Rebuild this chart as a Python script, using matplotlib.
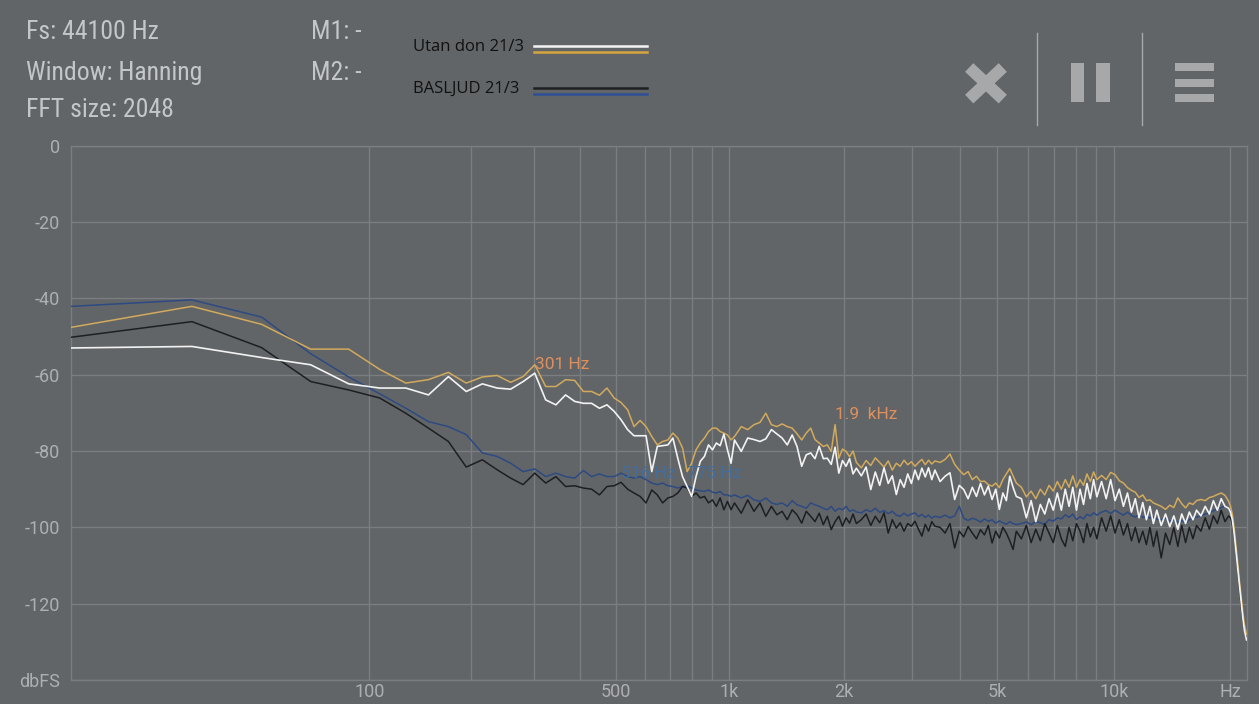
import numpy as np
import matplotlib
matplotlib.use("Agg")
import matplotlib.pyplot as plt
from matplotlib import font_manager
from matplotlib.patches import Rectangle

# --- data: FFT bins (44100 Hz, 2048 points) and levels in dBFS ---
bins = [0, 1, 2, 3, 4, 5, 6, 7, 8, 9, 10, 11, 12, 13, 14, 15, 16, 17, 18, 19,
        20, 21, 22, 23, 24, 25, 26, 27, 28, 29, 30, 31, 32, 33, 34, 35, 36, 37, 38, 39,
        40, 41, 42, 43, 44, 45, 46, 47, 48,
        50, 52, 54, 56, 58, 60, 62, 64, 66, 68, 70, 72, 74, 76, 78, 80, 82, 84, 86, 88,
        90, 92, 94, 96, 98, 100,
        103, 106, 109, 112, 115, 118, 121, 124, 127, 130, 133, 136, 139, 142, 145, 148,
        151, 154, 157, 160,
        165, 170, 175, 180, 185, 190, 195, 200, 205, 210, 215, 220, 225, 230, 235, 240,
        245, 250, 255, 260,
        268, 276, 284, 292, 300, 308, 316, 324, 332, 340, 348, 356, 364, 372, 380, 388,
        396, 404, 412, 420,
        432, 444, 456, 468, 480, 492, 504, 516, 528, 540, 552, 564, 576, 588, 600,
        616, 632, 648, 664, 680, 696, 712, 728, 744, 760,
        780, 800, 820, 840, 860, 880, 900, 920,
        930, 940, 950, 960, 970, 980, 990, 1000, 1010, 1023]

utan_peak = [-47.6, -42.1, -46.8, -53.3, -53.3, -58.6, -62.2, -61.3, -59.4, -62.2,
             -60.6, -60.2, -62.0, -60.5, -57.4, -63.1, -63.1, -61.3, -61.5, -64.4,
             -64.4, -65.4, -63.5, -66.1, -67.3, -69.2, -73.6, -72.0, -73.6, -76.2,
             -78.4, -77.5, -77.1, -75.3, -76.6, -79.2, -85.4, -83.2, -79.7, -77.9,
             -76.6, -74.9, -74.0, -74.0, -74.9, -75.3, -75.8, -77.1, -76.2,
             -73.6, -74.4, -73.1, -72.5, -70.1, -73.1, -73.6, -72.9, -73.6, -74.0,
             -75.5, -77.1, -75.3, -74.0, -77.0, -77.9, -78.8, -78.4, -80.1, -73.1,
             -81.9, -79.5, -80.1, -81.5, -80.0, -83.0,
             -84.4, -82.5, -83.8, -81.8, -83.0, -84.2, -82.6, -85.0, -83.2, -84.0,
             -82.4, -83.6, -82.8, -84.0, -83.0, -82.2, -83.6, -82.4, -83.4, -82.6,
             -83.0, -82.2, -80.8, -83.5, -85.0, -86.2, -85.4, -87.5, -86.6, -88.0,
             -87.9, -88.8, -89.2, -88.4, -89.6, -87.5, -86.0, -84.6, -86.5, -88.4,
             -89.5, -92.0, -90.5, -92.5, -90.0, -91.5, -89.0, -90.5, -88.0, -90.0,
             -87.5, -89.5, -86.5, -89.5, -87.5, -89.0, -86.0, -88.0, -85.5, -87.5,
             -86.4, -87.5, -85.6, -86.2, -87.8, -88.4, -89.6, -90.3, -90.8, -92.2,
             -91.5, -93.0, -92.8, -93.6, -94.0,
             -94.5, -95.3, -94.2, -94.8, -92.3, -93.8, -94.9, -93.6, -94.0, -93.0,
             -92.7, -93.0, -92.2, -91.9, -91.4, -91.0, -91.6, -93.2,
             -94.5, -96.5, -100.0, -104.5, -109.0, -113.7, -118.0, -122.0, -125.5, -128.0]

utan_live = [-53.0, -52.6, -55.5, -57.4, -62.4, -63.5, -63.5, -65.3, -60.5, -64.4,
             -62.4, -63.5, -63.8, -61.8, -59.6, -66.6, -67.9, -65.3, -67.0, -67.5,
             -67.5, -68.8, -67.9, -69.6, -71.8, -74.4, -76.0, -76.0, -76.0, -85.4,
             -78.8, -78.6, -78.4, -76.6, -81.9, -86.7, -89.3, -91.9, -86.7, -82.7,
             -81.4, -78.4, -79.7, -77.9, -78.6, -75.6, -79.7, -83.2, -77.1,
             -80.1, -76.6, -77.0, -77.5, -76.8, -74.4, -75.5, -76.6, -78.4, -75.8,
             -78.8, -84.0, -81.0, -80.5, -82.0, -78.8, -82.0, -81.9, -83.5, -79.0,
             -85.8, -82.5, -84.0, -82.0, -86.0, -84.5,
             -86.5, -84.2, -90.1, -85.5, -89.0, -84.4, -88.5, -86.5, -91.4, -87.5,
             -89.5, -86.0, -88.5, -85.0, -87.5, -84.5, -86.8, -84.4, -87.5, -85.0,
             -88.0, -86.6, -85.7, -92.7, -89.0, -90.1, -92.5, -89.5, -91.9, -88.5,
             -91.5, -89.2, -92.7, -90.0, -95.3, -91.0, -93.0, -86.6, -89.5, -91.9,
             -92.5, -97.5, -93.0, -98.5, -94.0, -96.5, -92.5, -95.5, -91.0, -95.5,
             -90.0, -94.5, -89.5, -95.5, -90.0, -94.0, -88.5, -92.5, -87.5, -92.0,
             -88.0, -92.5, -87.5, -93.0, -90.0, -94.5, -91.0, -96.0, -92.5, -97.5,
             -93.5, -98.0, -94.5, -99.0, -95.5,
             -99.5, -96.5, -99.8, -97.0, -100.5, -96.5, -99.0, -96.0, -98.0, -95.5,
             -97.0, -94.5, -96.5, -93.0, -95.5, -92.5, -94.5, -95.0,
             -96.0, -98.0, -101.5, -106.0, -110.5, -115.0, -119.5, -123.5, -127.0, -129.5]

bas_peak = [-42.1, -40.4, -44.9, -54.5, -60.6, -65.0, -68.8, -72.3, -73.6, -75.7,
            -80.5, -81.4, -83.2, -85.4, -84.7, -86.7, -85.8, -86.7, -87.1, -85.1,
            -86.7, -86.0, -86.7, -86.7, -85.8, -86.7, -87.1, -86.7, -87.5, -88.4,
            -88.8, -88.4, -89.1, -89.3, -89.7, -89.3, -89.1, -89.7, -90.2, -90.4,
            -90.6, -90.2, -90.8, -91.0, -90.6, -91.5, -91.5, -91.9, -91.5,
            -92.3, -91.6, -92.8, -93.2, -92.3, -93.6, -94.0, -93.6, -94.5, -93.0,
            -94.1, -94.5, -95.0, -93.6, -94.1, -94.5, -95.0, -95.4, -94.5, -95.8,
            -95.0, -95.4, -94.5, -95.8, -95.4, -96.0,
            -96.2, -95.4, -95.9, -95.0, -96.1, -95.6, -96.4, -95.8, -96.8, -97.1,
            -96.3, -97.0, -96.5, -96.2, -97.2, -96.6, -97.4, -96.8, -97.6, -97.1,
            -97.4, -96.8, -97.5, -97.0, -94.5, -97.6, -98.2, -97.6, -98.0, -98.6,
            -97.8, -98.4, -98.0, -98.9, -98.3, -98.8, -99.2, -98.5, -99.0, -99.3,
            -99.0, -98.6, -99.3, -98.5, -98.8, -99.2, -98.0, -98.4, -97.5, -97.8,
            -96.7, -97.4, -96.5, -98.0, -97.2, -97.8, -96.6, -97.0, -96.2, -96.8,
            -96.0, -95.6, -96.4, -95.5, -96.2, -96.8, -96.0, -96.9, -97.3, -96.6,
            -97.4, -97.0, -97.6, -97.2, -97.9,
            -98.0, -97.6, -98.4, -98.0, -98.8, -98.2, -98.8, -98.0, -97.6, -97.3,
            -97.0, -96.5, -96.2, -95.6, -95.3, -94.8, -94.5, -95.0,
            -95.5, -97.5, -101.0, -105.5, -110.0, -114.5, -119.0, -123.0, -126.5, -128.5]

bas_live = [-50.2, -46.1, -52.9, -61.8, -64.0, -66.1, -70.1, -74.0, -77.5, -84.2,
            -82.3, -84.9, -87.1, -88.8, -85.8, -88.4, -86.7, -89.3, -89.1, -89.7,
            -90.0, -91.5, -89.3, -89.1, -88.2, -90.0, -91.0, -91.9, -93.6, -90.2,
            -91.5, -93.6, -92.3, -91.9, -91.0, -89.3, -89.7, -91.9, -91.0, -92.3,
            -91.9, -93.6, -92.8, -94.5, -92.3, -95.4, -93.2, -95.4, -93.6,
            -96.3, -92.8, -95.8, -93.6, -97.1, -94.5, -96.7, -95.8, -98.0, -95.4,
            -96.7, -98.9, -95.8, -97.1, -98.5, -96.3, -99.3, -97.1, -100.6, -98.5,
            -97.1, -99.7, -97.5, -98.9, -96.5, -99.0,
            -98.0, -96.5, -99.5, -97.1, -98.8, -96.2, -101.5, -98.0, -100.2, -98.8,
            -101.0, -99.0, -99.7, -98.4, -100.5, -102.3, -99.2, -101.0, -98.5, -99.7,
            -100.0, -101.5, -99.0, -105.4, -101.0, -102.5, -99.8, -101.5, -103.0, -100.6,
            -102.0, -99.5, -104.1, -101.0, -102.8, -100.0, -101.5, -103.5, -105.8, -101.0,
            -103.0, -99.5, -104.0, -100.5, -103.5, -99.0, -101.5, -104.0, -99.5, -103.0,
            -105.0, -100.0, -103.5, -99.0, -101.0, -104.0, -99.0, -102.5, -100.0, -103.0,
            -97.5, -101.0, -97.0, -101.5, -98.0, -102.0, -99.0, -103.5, -100.0, -104.0,
            -101.0, -104.5, -100.0, -105.0, -101.0,
            -108.0, -101.5, -104.5, -100.0, -105.0, -99.5, -104.0, -100.0, -103.0, -99.5,
            -101.0, -97.5, -100.5, -97.0, -99.0, -95.5, -98.5, -97.0,
            -97.5, -99.0, -102.0, -106.0, -110.5, -115.5, -120.0, -124.0, -127.0, -129.0]

x_major = [100, 500, 1000, 2000, 5000, 10000, 20000]
x_major_labels = ['100', '500', '1k', '2k', '5k', '10k', 'Hz']
x_minor = [200, 300, 400, 600, 700, 800, 900, 3000, 4000, 6000, 7000, 8000, 9000]
y_ticks = [0, -20, -40, -60, -80, -100, -120, -140]
y_labels = ['0', '-20', '-40', '-60', '-80', '-100', '-120', 'dbFS']

# markers: (bin, series, label, colour)
markers = [(14, 'utan_peak', '301 Hz', '#de8f5c'),
           (88, 'utan_peak', '1.9  kHz', '#de8f5c'),
           (24, 'bas_peak', '516 Hz', '#436d9b'),
           (36, 'bas_peak', '775 Hz', '#436d9b')]

# --- style ---
W, H = 1259, 704
BG = '#626568'
GRID = '#7b7e81'
TICK_COL = '#adafb1'
HEAD_COL = '#c4c6c8'
ICON_COL = '#a6a8aa'

installed = {f.name for f in font_manager.fontManager.ttflist}
head_font = 'Roboto Condensed' if 'Roboto Condensed' in installed else 'Roboto'
plt.rcParams['font.family'] = ['Roboto', 'DejaVu Sans']

freqs = np.array(bins) * 44100 / 2048
series = {'utan_peak': np.array(utan_peak), 'utan_live': np.array(utan_live),
          'bas_peak': np.array(bas_peak), 'bas_live': np.array(bas_live)}

OFFSET = 20.5  # the app's log axis is log(f + ~1 bin)


def fwd(f):
    return np.log10(np.maximum(np.asarray(f, dtype=float) + OFFSET, 1e-3))


def inv(v):
    return 10 ** np.asarray(v, dtype=float) - OFFSET


fig = plt.figure(figsize=(W / 100, H / 100), dpi=100, facecolor=BG)
ax = fig.add_axes([71 / W, 1 - 680 / H, (1246.7 - 71) / W, (680 - 145.7) / H], facecolor=BG)
ax.set_xscale('function', functions=(fwd, inv))
ax.set_xlim(0, 22050)
ax.set_ylim(-140, 0)

ax.set_xticks(x_major, x_major_labels)
ax.set_xticks(x_minor, minor=True)
ax.set_yticks(y_ticks, y_labels)
ax.tick_params(which='both', length=0, colors=TICK_COL, labelsize=13)
ax.tick_params(axis='x', pad=2.5)
ax.tick_params(axis='y', pad=8)
ax.grid(True, which='both', color=GRID, lw=1)
for s in ax.spines.values():
    s.set_color(GRID)
    s.set_linewidth(1)

ax.plot(freqs, series['bas_peak'], color='#2d4a82', lw=1.1, zorder=3)
ax.plot(freqs, series['bas_live'], color='#1d1f22', lw=1.1, zorder=4)
ax.plot(freqs, series['utan_peak'], color='#d2aa5c', lw=1.1, zorder=5)
ax.plot(freqs, series['utan_live'], color='#f2f2f2', lw=1.2, zorder=6)

for b, key, label, col in markers:
    i = bins.index(b)
    dy = 10 if label.startswith('1.9') else 0
    dy = 12 if label.startswith('775') else dy
    ax.annotate(label, (freqs[i], series[key][i]), xytext=(0, dy), textcoords='offset pixels',
                ha='left', va='center', color=col, fontsize=12.5, zorder=7)

# --- screen overlay in pixel coordinates ---
ui = fig.add_axes([0, 0, 1, 1])
ui.set_xlim(0, W)
ui.set_ylim(H, 0)
ui.axis('off')
ui.patch.set_alpha(0)

for txt, y in [('Fs: 44100 Hz', 39), ('Window: Hanning', 80), ('FFT size: 2048', 117)]:
    ui.text(26, y, txt, color=HEAD_COL, fontsize=18.5, va='baseline', ha='left',
            family=[head_font, 'DejaVu Sans'])
for txt, y in [('M1: -', 39), ('M2: -', 80)]:
    ui.text(311, y, txt, color=HEAD_COL, fontsize=18.5, va='baseline', ha='left',
            family=[head_font, 'DejaVu Sans'])

ui.text(413, 47, 'Utan don 21/3', color='#111111', fontsize=12, va='center', ha='left',
        family=['Open Sans', 'DejaVu Sans'])
ui.text(413, 89, 'BASLJUD 21/3', color='#111111', fontsize=12, va='center', ha='left',
        family=['Open Sans', 'DejaVu Sans'])
ui.plot([534, 647], [46, 46], color='#f4f4f4', lw=1.8)
ui.plot([534, 647], [51.7, 51.7], color='#d7a63e', lw=1.8)
ui.plot([534, 647], [88.3, 88.3], color='#1d1f22', lw=1.8)
ui.plot([534, 647], [94, 94], color='#2c4f95', lw=1.8)

# close / pause / menu icons
ui.plot([969.2, 1002.8], [67.5, 99.1], color=ICON_COL, lw=8.6, solid_capstyle='butt')
ui.plot([969.2, 1002.8], [99.1, 67.5], color=ICON_COL, lw=8.6, solid_capstyle='butt')
ui.plot([1037.3, 1037.3], [33, 125], color=ICON_COL, lw=1)
ui.plot([1142, 1142], [33, 125], color=ICON_COL, lw=1)
ui.add_patch(Rectangle((1070.7, 63.3), 13.6, 39, color=ICON_COL, lw=0))
ui.add_patch(Rectangle((1096, 63.3), 14, 39, color=ICON_COL, lw=0))
for y in (63.3, 79, 94.3):
    ui.add_patch(Rectangle((1175.3, y), 39, 7.7, color=ICON_COL, lw=0))

fig.savefig('out.png', dpi=100, facecolor=BG)
